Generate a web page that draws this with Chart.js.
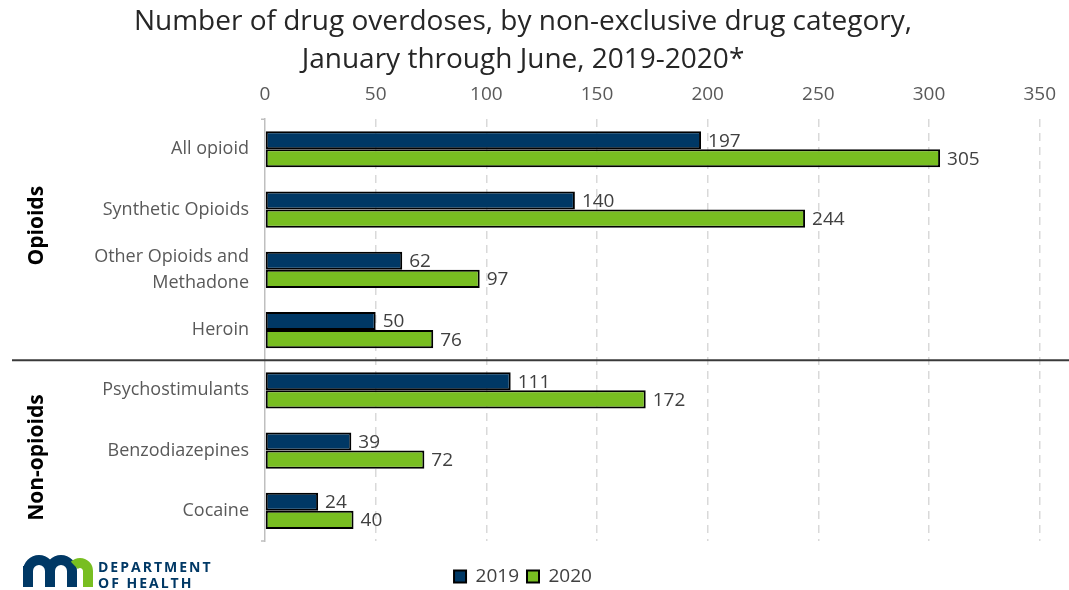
<!DOCTYPE html>
<html>
<head>
<meta charset="utf-8">
<script src="https://cdn.jsdelivr.net/npm/chart.js@4"></script>
<style>
  html, body { margin: 0; padding: 0; background: #fff; }
  #wrap { width: 1069px; height: 590px; }
</style>
</head>
<body>
<div id="wrap"><canvas id="overdoseChart" width="1069" height="590"></canvas></div>
<script>
const categories = ['All opioid', 'Synthetic Opioids', ['Other Opioids and', 'Methadone'], 'Heroin',
                    'Psychostimulants', 'Benzodiazepines', 'Cocaine'];
const values2019 = [197, 140, 62, 50, 111, 39, 24];
const values2020 = [305, 244, 97, 76, 172, 72, 40];
const groups = [
    { label: 'Opioids', from: 0, to: 3 },
    { label: 'Non-opioids', from: 4, to: 6 }
];
const xMin = 0, xMax = 350, xStep = 50;

const FONT = "'Open Sans', sans-serif";

// value labels at the end of each bar
const valueLabels = {
    id: 'valueLabels',
    afterDatasetsDraw(chart) {
        const ctx = chart.ctx;
        ctx.save();
        ctx.font = '19px ' + FONT;
        ctx.fillStyle = '#404040';
        ctx.textBaseline = 'middle';
        chart.data.datasets.forEach((ds, i) => {
            chart.getDatasetMeta(i).data.forEach((bar, j) => {
                ctx.fillText(ds.data[j], bar.x + 7, bar.y + 1);
            });
        });
        ctx.restore();
    }
};

// separator, group labels, axis brackets, logo
const decorations = {
    id: 'decorations',
    afterDraw(chart) {
        const ctx = chart.ctx;
        const y = chart.scales.y;
        const area = chart.chartArea;
        ctx.save();

        // bracket ticks on the category axis
        ctx.strokeStyle = '#bfbfbf';
        ctx.lineWidth = 1.5;
        ctx.beginPath();
        ctx.moveTo(area.left - 4, area.top); ctx.lineTo(area.left, area.top);
        ctx.moveTo(area.left - 4, area.bottom); ctx.lineTo(area.left, area.bottom);
        ctx.stroke();

        // separator between the two groups
        const sepY = (y.getPixelForValue(3) + y.getPixelForValue(4)) / 2;
        ctx.strokeStyle = '#3a3a3a';
        ctx.lineWidth = 2;
        ctx.beginPath();
        ctx.moveTo(12, sepY); ctx.lineTo(chart.width, sepY);
        ctx.stroke();

        // group labels
        ctx.fillStyle = '#000';
        ctx.font = 'bold 21px ' + FONT;
        ctx.textAlign = 'center';
        ctx.textBaseline = 'middle';
        groups.forEach((g, k) => {
            const cy = (y.getPixelForValue(g.from) + y.getPixelForValue(g.to)) / 2 + (k === 0 ? -14 : 7);
            ctx.save();
            ctx.translate(37, cy);
            ctx.rotate(-Math.PI / 2);
            ctx.fillText(g.label, 0, 0);
            ctx.restore();
        });

        // MN Department of Health logo
        ctx.lineCap = 'butt';
        ctx.lineWidth = 10;
        ctx.strokeStyle = '#003865';
        ctx.beginPath();
        ctx.moveTo(28, 587); ctx.lineTo(28, 566);
        ctx.moveTo(28, 570); ctx.arc(39, 571, 11, Math.PI, 0); ctx.lineTo(50, 587);
        ctx.moveTo(50, 571); ctx.arc(61, 571, 11, Math.PI, 0); ctx.lineTo(72, 587);
        ctx.stroke();
        ctx.strokeStyle = '#78be21';
        ctx.beginPath();
        ctx.arc(80, 571, 8, Math.PI * 1.25, 0); ctx.lineTo(88, 587);
        ctx.stroke();

        ctx.fillStyle = '#003865';
        ctx.font = 'bold 14px ' + FONT;
        ctx.textAlign = 'left';
        ctx.textBaseline = 'alphabetic';
        ctx.letterSpacing = '2px';
        ctx.fillText('DEPARTMENT', 98, 572);
        ctx.fillText('OF HEALTH', 98, 588);
        ctx.restore();
    }
};

const ctx = document.getElementById('overdoseChart').getContext('2d');

const overdoseChart = new Chart(ctx, {
    type: 'bar',
    data: {
        labels: categories,
        datasets: [{
            label: '2019',
            data: values2019,
            backgroundColor: '#003865',
            borderColor: '#000000',
            borderWidth: 2,
            borderSkipped: false
        }, {
            label: '2020',
            data: values2020,
            backgroundColor: '#78be21',
            borderColor: '#000000',
            borderWidth: 2,
            borderSkipped: false
        }]
    },
    options: {
        indexAxis: 'y',
        responsive: false,
        animation: false,
        categoryPercentage: 0.6,
        barPercentage: 1.0,
        layout: { padding: { top: 0, right: 23, bottom: -6, left: 0 } },
        plugins: {
            title: {
                display: true,
                text: ['Number of drug overdoses, by non-exclusive drug category,',
                       'January through June, 2019-2020*'],
                color: '#262626',
                font: { family: FONT, size: 28, weight: 'normal', lineHeight: 1.36 },
                padding: { top: 3, bottom: 0 }
            },
            legend: {
                position: 'bottom',
                labels: {
                    color: '#404040',
                    font: { family: FONT, size: 19 },
                    boxWidth: 12,
                    boxHeight: 12,
                    padding: 8
                }
            },
            tooltip: { enabled: false }
        },
        scales: {
            x: {
                position: 'top',
                min: xMin,
                max: xMax,
                ticks: {
                    stepSize: xStep,
                    color: '#595959',
                    font: { family: FONT, size: 19 },
                    padding: 13
                },
                grid: {
                    color: (c) => (c.tick && c.tick.value === 0) ? 'rgba(0,0,0,0)' : '#d9d9d9',
                    lineWidth: 1.5,
                    drawTicks: false,
                    borderDash: [8, 6]
                },
                border: { display: false, dash: [8, 6] },
                afterFit: (scale) => { scale.height = 40; }
            },
            // empty axis that only keeps space between the bars and the legend
            spacer: {
                type: 'linear',
                axis: 'x',
                position: 'bottom',
                ticks: { display: false },
                grid: { display: false },
                border: { display: false },
                afterFit: (scale) => { scale.height = 18; }
            },
            y: {
                ticks: {
                    color: '#595959',
                    font: { family: FONT, size: 18, lineHeight: 1.45 },
                    padding: 16
                },
                grid: { display: true, drawOnChartArea: false, drawTicks: false },
                border: { display: true, color: '#bfbfbf', width: 1.5 },
                afterFit: (scale) => { scale.width = 265; }
            }
        }
    },
    plugins: [valueLabels, decorations]
});
</script>
</body>
</html>
